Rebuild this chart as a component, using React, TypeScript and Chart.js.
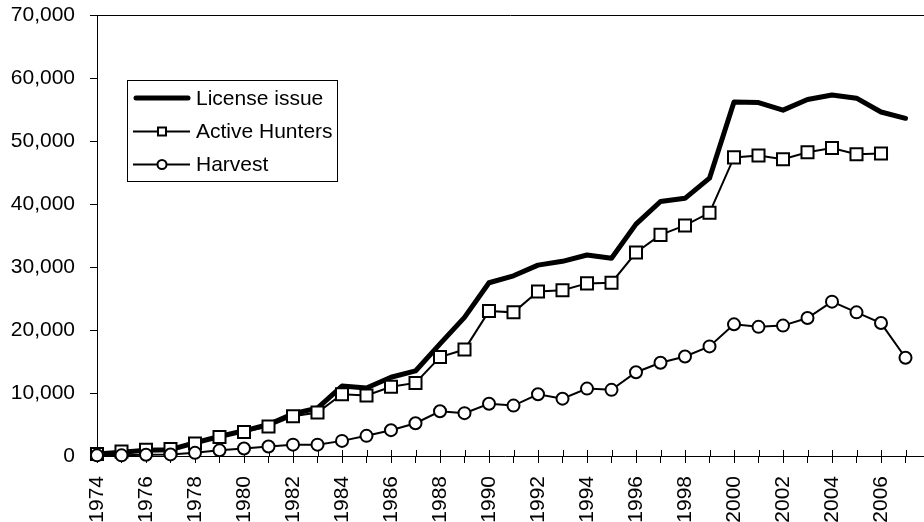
import React, { useEffect, useRef } from 'react';
import { Chart, registerables } from 'chart.js';

Chart.register(...registerables);

const years = [
  1974, 1975, 1976, 1977, 1978, 1979, 1980, 1981, 1982, 1983, 1984, 1985,
  1986, 1987, 1988, 1989, 1990, 1991, 1992, 1993, 1994, 1995, 1996, 1997,
  1998, 1999, 2000, 2001, 2002, 2003, 2004, 2005, 2006, 2007,
];

const licenseIssue = [
  300, 600, 900, 1000, 2100, 3100, 4000, 5000, 6700, 7600, 11100, 10800,
  12500, 13500, 17800, 22000, 27500, 28600, 30300, 30900, 31900, 31400, 36800, 40400,
  40900, 44100, 56200, 56100, 54900, 56600, 57300, 56800, 54600, 53600,
];

const activeHunters = [
  300, 700, 1000, 1100, 2000, 3000, 3800, 4700, 6300, 6900, 9800, 9600,
  11000, 11600, 15700, 16900, 23000, 22800, 26100, 26300, 27400, 27500, 32300, 35100,
  36600, 38600, 47400, 47700, 47100, 48200, 48900, 47900, 48000, null,
];

const harvest = [
  100, 100, 200, 250, 500, 900, 1200, 1500, 1800, 1800, 2400, 3200,
  4100, 5200, 7100, 6800, 8300, 8000, 9800, 9100, 10700, 10500, 13300, 14800,
  15800, 17400, 20900, 20500, 20700, 21900, 24500, 22800, 21100, 15600,
];

const seriesNames = ['License issue', 'Active Hunters', 'Harvest'];
const yTickValues = [0, 10000, 20000, 30000, 40000, 50000, 60000, 70000];

// x extent visible up to the canvas' right edge (axis continues past 2007)
const X_START = 1974;
const X_END = 2007.755;

const FONT = '"Liberation Sans", Arial, sans-serif';
const FONT_SIZE = 21;

const toPoints = (vals: (number | null)[]) =>
  years.map((yr, i) => ({ x: yr, y: vals[i] }));

const decorPlugin = {
  id: 'decor',
  afterLayout(chart: any) {
    const xs = chart.scales.x;
    const { left, right } = chart.chartArea;
    const fullRight = chart.width;
    xs.max = X_START + ((X_END - X_START) * (right - left)) / (fullRight - left);
    xs.configure();
  },
  beforeDatasetsDraw(chart: any) {
    const { ctx, chartArea } = chart;
    const xs = chart.scales.x;
    ctx.save();
    ctx.strokeStyle = '#000';
    ctx.lineWidth = 1;
    const ty = Math.round(chartArea.top) + 0.5;
    ctx.beginPath();
    ctx.moveTo(chartArea.left, ty);
    ctx.lineTo(chart.width, ty);
    ctx.stroke();
    const by = Math.round(chartArea.bottom);
    ctx.beginPath();
    ctx.moveTo(chartArea.right - 1, by + 0.5);
    ctx.lineTo(chart.width, by + 0.5);
    ctx.stroke();
    years.forEach((yr) => {
      const px = Math.round(xs.getPixelForValue(yr)) + 0.5;
      ctx.beginPath();
      ctx.moveTo(px, by);
      ctx.lineTo(px, by - 6);
      ctx.stroke();
    });
    ctx.restore();
  },
  afterDraw(chart: any) {
    const { ctx } = chart;
    ctx.save();
    const bx = 127.5, by = 80.5, bw = 210, bh = 101;
    ctx.fillStyle = '#fff';
    ctx.fillRect(bx, by, bw, bh);
    ctx.strokeStyle = '#000';
    ctx.lineWidth = 1;
    ctx.strokeRect(bx, by, bw, bh);
    const rows = [98, 131.5, 164.5];
    ctx.font = `${FONT_SIZE}px ${FONT}`;
    ctx.textBaseline = 'middle';
    ctx.textAlign = 'left';
    rows.forEach((ry, i) => {
      ctx.strokeStyle = '#000';
      if (i === 0) {
        ctx.lineWidth = 5;
        ctx.lineCap = 'round';
        ctx.beginPath();
        ctx.moveTo(136, ry);
        ctx.lineTo(188, ry);
        ctx.stroke();
        ctx.lineCap = 'butt';
      } else {
        ctx.lineWidth = 2;
        ctx.beginPath();
        ctx.moveTo(133, ry);
        ctx.lineTo(190, ry);
        ctx.stroke();
        ctx.fillStyle = '#fff';
        if (i === 1) {
          ctx.fillRect(158, ry - 4, 8, 8);
          ctx.strokeRect(158, ry - 4, 8, 8);
        } else {
          ctx.beginPath();
          ctx.arc(162, ry, 4.5, 0, Math.PI * 2);
          ctx.fill();
          ctx.stroke();
        }
      }
      ctx.fillStyle = '#000';
      ctx.fillText(seriesNames[i], 196, ry + 1);
    });
    ctx.restore();
  },
};

export default function App() {
  const canvasRef = useRef<HTMLCanvasElement | null>(null);

  useEffect(() => {
    document.body.style.margin = '0';
    const canvas = canvasRef.current;
    if (!canvas) return;
    const chart = new Chart(canvas, {
      type: 'line',
      data: {
        datasets: [
          {
            label: seriesNames[2],
            data: toPoints(harvest),
            borderColor: '#000',
            borderWidth: 2,
            pointStyle: 'circle',
            pointRadius: 6,
            pointBorderWidth: 2,
            pointBackgroundColor: '#fff',
            pointBorderColor: '#000',
            clip: false,
            tension: 0,
          },
          {
            label: seriesNames[1],
            data: toPoints(activeHunters),
            borderColor: '#000',
            borderWidth: 2,
            pointStyle: 'rect',
            pointRadius: 8.5,
            pointBorderWidth: 2,
            pointBackgroundColor: '#fff',
            pointBorderColor: '#000',
            clip: false,
            spanGaps: false,
            tension: 0,
          },
          {
            label: seriesNames[0],
            data: toPoints(licenseIssue),
            borderColor: '#000',
            borderWidth: 5,
            borderCapStyle: 'round',
            borderJoinStyle: 'round',
            pointRadius: 0,
            clip: false,
            tension: 0,
          },
        ] as any,
      },
      options: {
        animation: false,
        responsive: true,
        maintainAspectRatio: false,
        layout: { padding: { top: 15, left: 0, right: 0, bottom: 0 } },
        plugins: {
          legend: { display: false },
          tooltip: { enabled: false },
        },
        scales: {
          x: {
            type: 'linear',
            min: X_START,
            max: X_END,
            afterBuildTicks: (scale: any) => {
              scale.ticks = years.map((v) => ({ value: v }));
            },
            afterFit: (scale: any) => {
              scale.height = 66;
              scale.paddingLeft = 0;
              scale.paddingRight = 0;
            },
            ticks: {
              autoSkip: false,
              minRotation: 90,
              maxRotation: 90,
              padding: 13,
              color: '#000',
              font: { family: FONT, size: FONT_SIZE },
              callback: (v: any) => (Number(v) % 2 === 0 ? String(v) : ''),
            },
            grid: {
              drawOnChartArea: false,
              drawTicks: true,
              tickLength: 7,
              color: '#000',
              tickColor: '#000',
            },
            border: { display: true, color: '#000', width: 1 },
          },
          y: {
            type: 'linear',
            min: 0,
            max: 70000,
            afterBuildTicks: (scale: any) => {
              scale.ticks = yTickValues.map((v) => ({ value: v }));
            },
            afterFit: (scale: any) => {
              scale.width = 97;
              scale.paddingTop = 0;
              scale.paddingBottom = 0;
            },
            ticks: {
              padding: 15,
              color: '#000',
              font: { family: FONT, size: FONT_SIZE },
              callback: (v: any) => Number(v).toLocaleString('en-US'),
            },
            grid: {
              drawOnChartArea: false,
              drawTicks: true,
              tickLength: 7,
              color: '#000',
              tickColor: '#000',
            },
            border: { display: true, color: '#000', width: 1 },
          },
        },
      },
      plugins: [decorPlugin],
    });
    return () => chart.destroy();
  }, []);

  return (
    <div style={{ width: '924px', height: '522px', position: 'relative' }}>
      <canvas ref={canvasRef} />
    </div>
  );
}
